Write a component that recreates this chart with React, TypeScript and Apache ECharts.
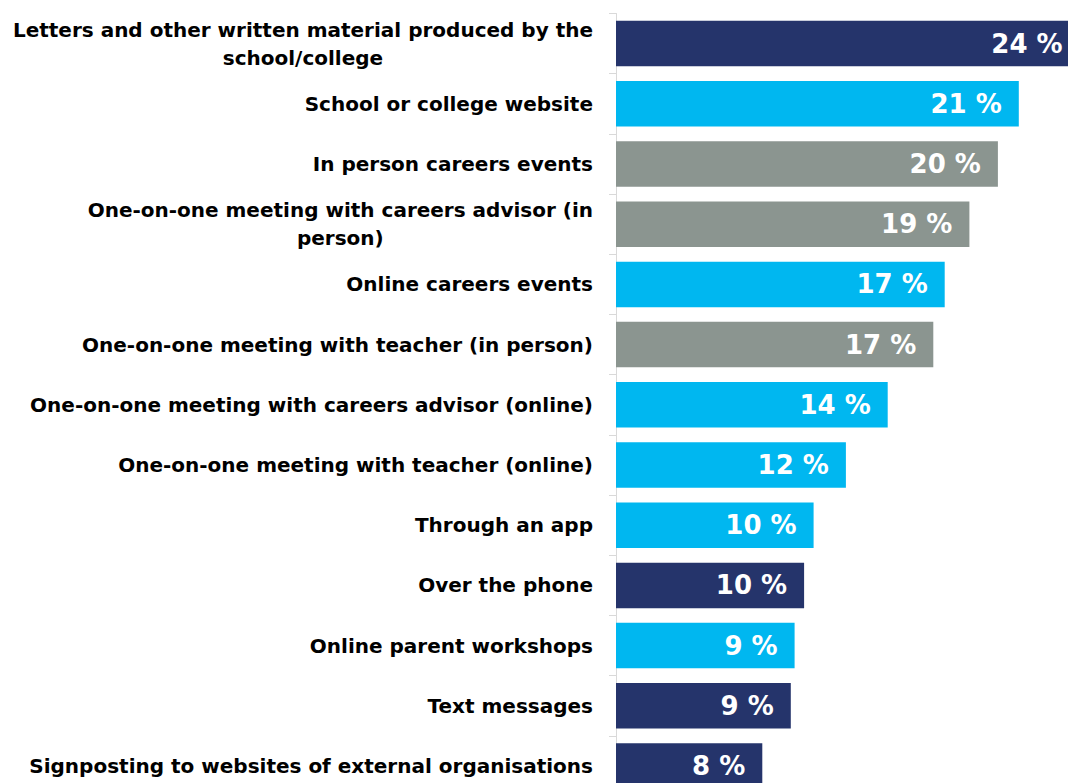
import React, { useEffect, useRef } from "react";
import * as echarts from "echarts";

const categories = [
  "Letters and other written material produced by the school/college",
  "School or college website",
  "In person careers events",
  "One-on-one meeting with careers advisor (in person)",
  "Online careers events",
  "One-on-one meeting with teacher (in person)",
  "One-on-one meeting with careers advisor (online)",
  "One-on-one meeting with teacher (online)",
  "Through an app",
  "Over the phone",
  "Online parent workshops",
  "Text messages",
  "Signposting to websites of external organisations",
];

const values = [24.4, 21.2, 20.1, 18.6, 17.3, 16.7, 14.3, 12.1, 10.4, 9.9, 9.4, 9.2, 7.7];

const NAVY = "#25346B";
const CYAN = "#00B7F0";
const GRAY = "#8B9590";
const barColors = [NAVY, CYAN, GRAY, GRAY, CYAN, GRAY, CYAN, CYAN, CYAN, NAVY, CYAN, NAVY, NAVY];

const labelBreaks: Record<string, string[]> = {
  "Letters and other written material produced by the school/college": [
    "Letters and other written material produced by the",
    "school/college",
  ],
  "One-on-one meeting with careers advisor (in person)": [
    "One-on-one meeting with careers advisor (in",
    "person)",
  ],
};

const FONT = { fontFamily: "DejaVu Sans", fontWeight: "bold" as const, fontSize: 20, color: "#000000" };

export default function App() {
  const ref = useRef<HTMLDivElement>(null);
  useEffect(() => {
    if (!ref.current) return;
    const chart = echarts.init(ref.current, undefined, { renderer: "svg" });
    chart.setOption({
      animation: false,
      grid: { left: 616, top: 13.5, width: 475, height: 13 * 60.2, containLabel: false },
      xAxis: {
        type: "value",
        min: 0,
        max: 25,
        show: false,
      },
      yAxis: {
        type: "category",
        inverse: true,
        data: categories,
        axisLine: { show: true, lineStyle: { color: "#D9D9D9", width: 1 } },
        axisTick: { show: true, length: 7, lineStyle: { color: "#D9D9D9" } },
        axisLabel: {
          margin: 23,
          ...FONT,
          lineHeight: 28,
          align: "right",
          formatter: (v: string) => {
            const parts = labelBreaks[v];
            if (!parts) return v;
            return parts.map((p) => `{c|${p}}`).join("\n");
          },
          rich: {
            c: { ...FONT, lineHeight: 28, align: "center" },
          },
        },
        splitLine: { show: false },
      },
      series: [
        {
          type: "bar",
          data: values.map((v, i) => ({ value: v, itemStyle: { color: barColors[i] } })),
          barCategoryGap: "24.4%",
          label: {
            show: true,
            position: "insideRight",
            distance: 17,
            color: "#FFFFFF",
            fontFamily: "DejaVu Sans",
            fontWeight: "bold",
            fontSize: 26,
            formatter: (p: any) => `${Math.round(p.value)} %`,
          },
        },
      ],
    });
    return () => chart.dispose();
  }, []);
  return (
    <div
      style={{
        position: "fixed",
        left: 0,
        top: 0,
        width: 1068,
        height: 783,
        overflow: "hidden",
        background: "#FFFFFF",
      }}
    >
      <div ref={ref} style={{ width: 1110, height: 810 }} />
    </div>
  );
}
